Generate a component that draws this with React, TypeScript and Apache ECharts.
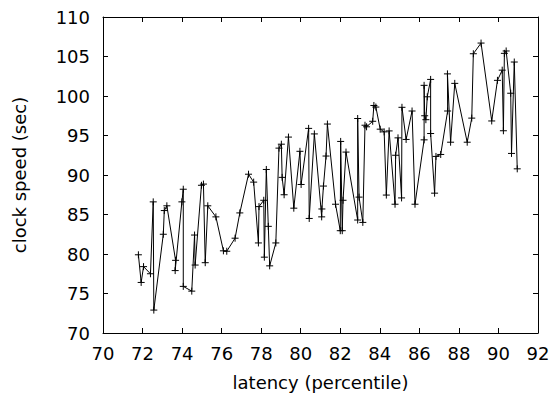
import React, { useEffect, useRef } from "react";
import * as echarts from "echarts";

const latency: number[] = [
  71.79, 71.93, 72.05, 72.4, 72.54, 72.57, 73.05, 73.1, 73.23, 73.67,
  73.65, 73.99, 74.06, 74.06, 74.49, 74.63, 74.66, 74.98, 75.08, 75.17,
  75.3, 75.71, 76.09, 76.26, 76.68, 76.92, 77.36, 77.62, 77.86, 77.89,
  78.13, 78.16, 78.26, 78.36, 78.43, 78.74, 78.9, 79.02, 79.06, 79.16,
  79.38, 79.65, 79.96, 80.02, 80.4, 80.43, 80.69, 81.06, 81.07, 81.15,
  81.28, 81.35, 81.76, 82.0, 82.02, 82.1, 82.14, 82.29, 82.88, 82.88,
  82.95, 83.14, 83.25, 83.33, 83.64, 83.7, 83.8, 84.02, 84.22, 84.33,
  84.47, 84.77, 84.8, 84.92, 85.1, 85.12, 85.33, 85.63, 85.78, 86.24,
  86.24, 86.27, 86.33, 86.4, 86.57, 86.57, 86.77, 86.84, 87.08, 87.43,
  87.42, 87.58, 87.79, 88.42, 88.65, 88.73, 89.12, 89.66, 89.95, 90.19,
  90.25, 90.3, 90.39, 90.62, 90.66, 90.8, 90.95,
];

const clockSpeed: number[] = [
  79.9, 76.4, 78.4, 77.5, 86.6, 72.9, 82.5, 85.5, 86.1, 79.2,
  77.9, 86.6, 88.2, 75.9, 75.3, 82.4, 78.6, 88.7, 88.85, 78.9,
  86.1, 84.7, 80.4, 80.35, 82.0, 85.2, 90.1, 89.1, 81.4, 86.0,
  86.8, 79.6, 90.7, 83.5, 78.5, 81.4, 93.4, 93.9, 89.7, 87.5,
  94.8, 85.8, 93.0, 88.8, 95.9, 84.5, 95.2, 84.7, 85.7, 88.6,
  92.4, 96.45, 86.3, 82.95, 94.25, 82.95, 86.8, 92.9, 84.3, 97.15,
  87.2, 84.0, 96.3, 96.1, 96.8, 98.8, 98.6, 95.8, 95.46, 87.46,
  95.58, 86.3, 92.5, 94.7, 87.1, 98.57, 94.5, 98.1, 86.3, 94.45,
  101.35, 97.5, 97.0, 99.9, 102.1, 95.25, 87.7, 92.35, 92.6, 98.1,
  102.8, 94.15, 101.6, 94.15, 97.2, 105.35, 106.7, 96.84, 101.98, 103.27,
  95.6, 105.4, 105.7, 100.35, 92.73, 104.3, 90.78,
];

const xTitle = "latency (percentile)";
const yTitle = "clock speed (sec)";
const xMin = 70, xMax = 92, xStep = 2;
const yMin = 70, yMax = 110, yStep = 5;

const FONT = "DejaVu Sans";

export default function App() {
  const ref = useRef<HTMLDivElement>(null);
  useEffect(() => {
    if (!ref.current) return;
    const chart = echarts.init(ref.current, undefined, { renderer: "svg" });
    const axisLine = { show: true, lineStyle: { color: "#000", width: 1 } };
    const tick = { show: true, inside: true, length: 5, lineStyle: { color: "#000", width: 1 } };
    const label = { color: "#000", fontFamily: FONT, fontSize: 18 };
    chart.setOption({
      animation: false,
      backgroundColor: "#fff",
      grid: { left: 103, right: 18, top: 17, bottom: 63, containLabel: false },
      xAxis: [
        {
          type: "value", min: xMin, max: xMax, interval: xStep, position: "bottom",
          axisLine, axisTick: tick, splitLine: { show: false },
          axisLabel: { ...label, margin: 11 },
          name: xTitle, nameLocation: "middle", nameGap: 40,
          nameTextStyle: { color: "#000", fontFamily: FONT, fontSize: 18 },
        },
        {
          type: "value", min: xMin, max: xMax, interval: xStep, position: "top",
          axisLine, axisTick: tick, splitLine: { show: false },
          axisLabel: { show: false },
        },
      ],
      yAxis: [
        {
          type: "value", min: yMin, max: yMax, interval: yStep, position: "left",
          axisLine, axisTick: tick, splitLine: { show: false },
          axisLabel: { ...label, margin: 13 },
          name: yTitle, nameLocation: "middle", nameGap: 75,
          nameTextStyle: { color: "#000", fontFamily: FONT, fontSize: 18 },
        },
        {
          type: "value", min: yMin, max: yMax, interval: yStep, position: "right",
          axisLine, axisTick: tick, splitLine: { show: false },
          axisLabel: { show: false },
        },
      ],
      series: [
        {
          type: "line",
          data: latency.map((x, i) => [x, clockSpeed[i]]),
          xAxisIndex: 0, yAxisIndex: 0,
          symbol: "path://M0,5H10M5,0V10",
          symbolSize: 7,
          showSymbol: true,
          lineStyle: { color: "#000", width: 1 },
          itemStyle: { color: "#000", borderColor: "#000", borderWidth: 1 },
        },
      ],
    });
    return () => chart.dispose();
  }, []);
  return <div ref={ref} style={{ width: 556, height: 396, position: "absolute", left: 0, top: 0 }} />;
}
